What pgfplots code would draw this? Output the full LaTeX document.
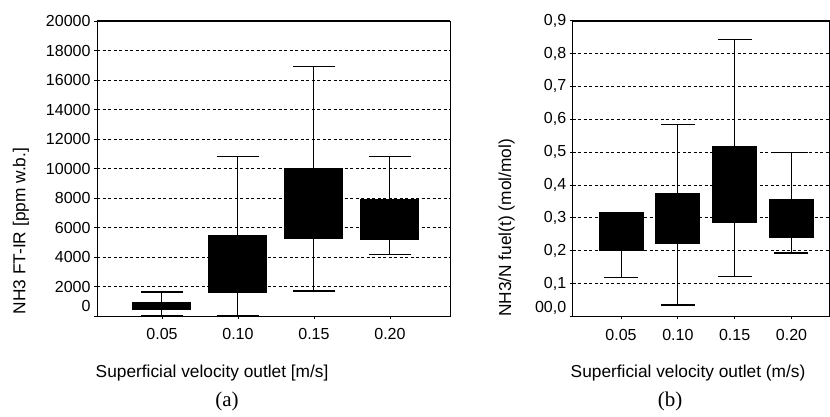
\documentclass[border=0pt]{standalone}
\usepackage{pgfplots}
\pgfplotsset{compat=1.18}
\usepackage{fontspec}
\setmainfont{Liberation Sans}
\newfontfamily\capfont{Liberation Serif}
\begin{document}
\begin{tikzpicture}
\useasboundingbox (0pt,0pt) rectangle (830pt,417pt);
\pgfplotsset{
  myax/.style={
    scale only axis, anchor=south west,
    label style={font=\fontsize{17.3}{20}\selectfont},
    tick label style={font=\fontsize{16}{19}\selectfont},
    /pgf/number format/assume math mode=true,
    axis line style={black, line width=0.9pt},
    ymajorgrids,
    grid style={black, line width=0.7pt, dash pattern=on 3pt off 2.5pt},
    tick style={black, line width=0.8pt},
    tick align=outside, major tick length=3pt,
    tick pos=left,
    xtick={1,2,3,4}, xticklabels={0.05,0.10,0.15,0.20},
    xticklabel style={yshift=-6pt},
  },
  whisk/.style={black, line width=1pt, mark=none, solid},
}
% ---------- (a) ----------
\begin{axis}[myax, at={(97pt,101pt)}, width=353pt, height=295pt,
  xmin=0.145, xmax=4.79, ymin=0, ymax=20000,
  ytick={2000,4000,6000,8000,10000,12000,14000,16000,18000,20000},
  scaled y ticks=false,
  yticklabel style={/pgf/number format/fixed, /pgf/number format/1000 sep={}},
  extra y ticks={0}, extra y tick labels={0},
  extra y tick style={grid=none, yticklabel style={yshift=10pt}},
  xlabel={Superficial velocity outlet [m/s]},
  xlabel style={at={(axis description cs:0.326,0)}, anchor=center, yshift=-57pt},
  ylabel={NH3 FT-IR [ppm w.b.]},
  ylabel style={at={(axis description cs:-0.2153,0.288)}, anchor=center},
  box/.style={black, line width=59pt, mark=none, solid},
]
% whiskers (lower whisker to upper whisker)
\addplot[whisk] coordinates {(1,0) (1,1630)};
\addplot[whisk] coordinates {(2,0) (2,10800)};
\addplot[whisk] coordinates {(3,1700) (3,16900)};
\addplot[whisk] coordinates {(4,4150) (4,10800)};
% boxes (lower quartile to upper quartile)
\addplot[box] coordinates {(1,380) (1,930)};
\addplot[box] coordinates {(2,1560) (2,5500)};
\addplot[box] coordinates {(3,5230) (3,10000)};
\addplot[box] coordinates {(4,5160) (4,7900)};
% whisker caps
\addplot[only marks, mark=-, mark size=21.3pt, mark options={black, line width=1.4pt}]
  coordinates {(1,0) (1,1630) (2,0) (2,10800) (3,1700) (3,16900) (4,4150) (4,10800)};
\draw[black, line width=1.6pt] (rel axis cs:0,1) -- (rel axis cs:1,1);
\end{axis}
% ---------- (b) ----------
\begin{axis}[myax, at={(572.7pt,100.7pt)}, width=256.3pt, height=295.6pt,
  xmin=0.15, xmax=4.66, ymin=0, ymax=0.9,
  ytick={0.1,0.2,0.3,0.4,0.5,0.6,0.7,0.8,0.9},
  yticklabels={{0,1},{0,2},{0,3},{0,4},{0,5},{0,6},{0,7},{0,8},{0,9}},
  extra y ticks={0}, extra y tick labels={00{,}0},
  extra y tick style={grid=none, yticklabel style={yshift=8pt}},
  xlabel={Superficial velocity outlet (m/s)},
  xlabel style={at={(axis description cs:0.45,0)}, anchor=center, yshift=-57pt},
  ylabel={NH3/N fuel(t) (mol/mol)},
  ylabel style={at={(axis description cs:-0.2575,0.299)}, anchor=center},
  box/.style={black, line width=45pt, mark=none, solid},
]
\addplot[whisk] coordinates {(1,0.118) (1,0.317)};
\addplot[whisk] coordinates {(2,0.035) (2,0.584)};
\addplot[whisk] coordinates {(3,0.121) (3,0.843)};
\addplot[whisk] coordinates {(4,0.193) (4,0.498)};
\addplot[box] coordinates {(1,0.200) (1,0.317)};
\addplot[box] coordinates {(2,0.220) (2,0.376)};
\addplot[box] coordinates {(3,0.284) (3,0.517)};
\addplot[box] coordinates {(4,0.239) (4,0.356)};
\addplot[only marks, mark=-, mark size=17pt, mark options={black, line width=1.4pt}]
  coordinates {(1,0.118) (2,0.035) (2,0.584) (3,0.121) (3,0.843) (4,0.193) (4,0.498)};
\draw[black, line width=1.6pt] (rel axis cs:0,1) -- (rel axis cs:1,1);
\end{axis}
\node[font=\capfont\fontsize{21}{24}\selectfont] at (227pt,16pt) {(a)};
\node[font=\capfont\fontsize{21}{24}\selectfont] at (670pt,16pt) {(b)};
\end{tikzpicture}
\end{document}
